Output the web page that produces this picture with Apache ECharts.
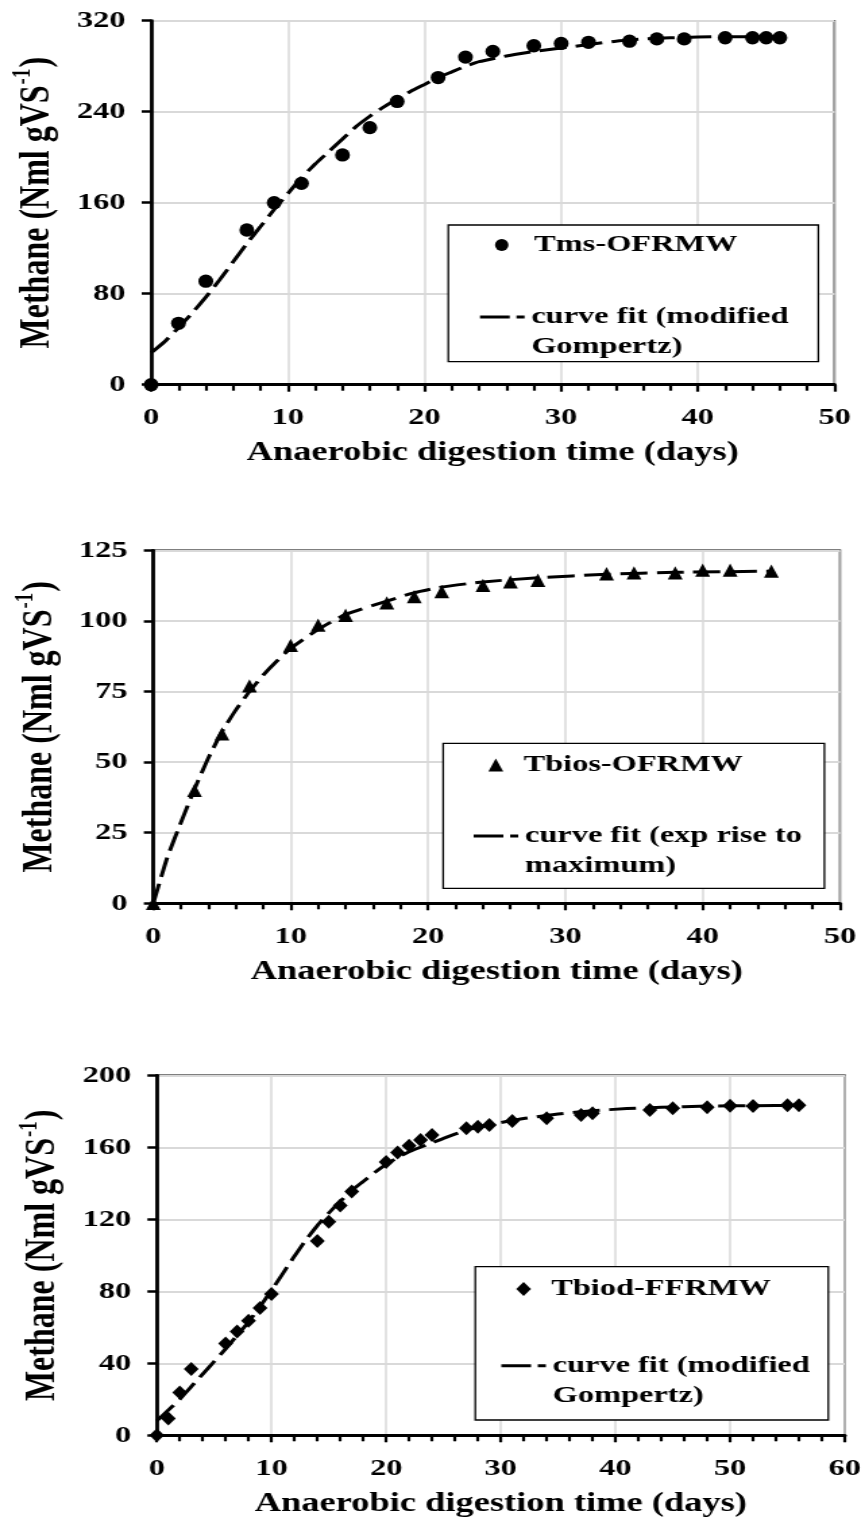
<!DOCTYPE html>
<html>
<head>
<meta charset="utf-8">
<script src="https://cdn.jsdelivr.net/npm/echarts@6/dist/echarts.min.js"></script>
<style>
html,body{margin:0;padding:0;background:#fff;overflow:hidden;width:865px;height:1521px;}
#c{width:641px;height:1521px;transform:scaleX(1.34945);transform-origin:0 0;}
</style>
</head>
<body>
<div id="c"></div>
<script>
// ---------- DATA ----------
// Panel 1: Tms-OFRMW
const tmsDays    = [0, 2, 4, 7, 9, 11, 14, 16, 18, 21, 23, 25, 28, 30, 32, 35, 37, 39, 42, 44, 45, 46];
const tmsMethane = [0, 54, 91, 136, 160, 177, 202, 226, 249, 270, 288, 293, 298, 300, 301, 302, 304, 304, 305, 305, 305, 305];
const tmsFitDays    = [0, 1, 2, 3, 4, 5, 6, 7, 8, 9, 10, 11, 12, 13, 14, 15, 16, 17, 18, 19, 20, 21, 22, 23, 24, 26, 28, 30, 32, 34, 36, 38, 42, 46];
const tmsFitMethane = [28, 38, 50, 63, 77, 92, 108, 124, 139, 154, 168, 182, 194, 205, 216, 227, 236, 244, 251, 258, 264, 270, 275, 280, 284, 289, 293, 296, 299, 302, 304, 305, 306, 306];
// Panel 2: Tbios-OFRMW
const bioDays    = [0, 3, 5, 7, 10, 12, 14, 17, 19, 21, 24, 26, 28, 33, 35, 38, 40, 42, 45];
const bioMethane = [0, 40, 60, 77, 91.3, 98.5, 102, 106.4, 108.6, 110.4, 112.6, 113.8, 114.4, 116.7, 117, 117, 118, 118, 117.6];
const bioFitDays    = [0, 1, 2, 3, 4, 5, 6, 7, 8, 9, 10, 12, 14, 17, 19, 21, 24, 28, 33, 38, 45];
const bioFitMethane = [0, 16, 28.5, 40.5, 51.4, 60.8, 68.4, 75, 80.8, 85.8, 90.3, 97, 102.3, 107, 110, 112, 113.8, 115.3, 116.5, 117.2, 117.6];
// Panel 3: Tbiod-FFRMW
const biodDays    = [0, 1, 2, 3, 6, 7, 8, 9, 10, 14, 15, 16, 17, 20, 21, 22, 23, 24, 27, 28, 29, 31, 34, 37, 38, 43, 45, 48, 50, 52, 55, 56];
const biodMethane = [0, 9.3, 23.8, 36.8, 51, 57.7, 63.6, 70.7, 78.5, 108, 118.7, 127.7, 135.5, 151.8, 157.1, 160.8, 164, 166.8, 170.6, 171.4, 172.4, 174.6, 176.1, 177.9, 178.9, 180.7, 181.7, 182.2, 183.1, 182.9, 183.3, 183.3];
const biodFitDays    = [0, 1, 2, 3, 4, 5, 6, 7, 8, 9, 10, 11, 12, 13, 14, 15, 16, 17, 18, 19, 20, 21, 22, 24, 25, 27, 29, 32, 35, 38, 41, 44, 48, 52, 56];
const biodFitMethane = [8, 14, 20, 27, 34, 41, 48, 55.5, 63, 71.5, 80.5, 90, 99.5, 108.5, 116.5, 123.5, 130, 136, 141, 146, 150.5, 154.3, 157.5, 162.5, 165, 169.5, 172.5, 176, 178.5, 180.3, 181.5, 182.2, 182.9, 183.1, 183.3];

// Tick labels
const xTicks1 = [0, 10, 20, 30, 40, 50];
const xTicks2 = [0, 10, 20, 30, 40, 50];
const xTicks3 = [0, 10, 20, 30, 40, 50, 60];
const yTicks1 = [0, 80, 160, 240, 320];
const yTicks2 = [0, 25, 50, 75, 100, 125];
const yTicks3 = [0, 40, 80, 120, 160, 200];

// Text
const xTitle = 'Anaerobic digestion time (days)';
const yTitle = '{a|Methane (Nml gVS}{s|-1}{a|)}';
const seriesNames = ['Tms-OFRMW', 'Tbios-OFRMW', 'Tbiod-FFRMW'];
const fitNames = ['fit-Tms', 'fit-Tbios', 'fit-Tbiod'];
const fitLabels = {
  'fit-Tms':   ['curve fit (modified', 'Gompertz)'],
  'fit-Tbios': ['curve fit (exp rise to', 'maximum)'],
  'fit-Tbiod': ['curve fit (modified', 'Gompertz)']
};

// ---------- CHART ----------
const FONT = "'Liberation Serif', 'Times New Roman', serif";
const zip = (a, b) => a.map((v, i) => [v, b[i]]);
const ellipse = 'path://M0,50 A50,50 0 1,0 100,50 A50,50 0 1,0 0,50 Z';
const dashIcon = 'path://M0,0 L22,0 L22,3 L0,3 Z M27,0 L33,0 L33,3 L27,3 Z';

const grids = [
  {left: 108.9, top: 20.7, width: 509.5, height: 364},
  {left: 113.6, top: 550.3, width: 508.9, height: 353},
  {left: 116.2, top: 1075.3, width: 510.4, height: 360}
];
const xTicksAll = [xTicks1, xTicks2, xTicks3];
const yTicksAll = [yTicks1, yTicks2, yTicks3];

const txt = {color: '#000', fontFamily: FONT, fontWeight: 'bold'};
const legendText = (extra) => Object.assign({fontSize: 24, lineHeight: 30}, txt, extra || {});

const option = {
  animation: false,
  backgroundColor: '#fff',
  grid: grids.map(g => Object.assign({show: true, borderColor: '#000', borderWidth: 1.5, backgroundColor: 'transparent'}, g)),
  xAxis: xTicksAll.map((t, i) => ({
    type: 'value', gridIndex: i,
    min: t[0], max: t[t.length - 1], interval: t[1] - t[0],
    axisLine: {show: true, onZero: false, lineStyle: {color: '#000', width: 3}},
    axisTick: {show: true, inside: false, length: 7, lineStyle: {color: '#000', width: 2.2}},
    minorTick: {show: true, splitNumber: 5, length: 6, lineStyle: {color: '#000', width: 2.2}},
    splitLine: {show: true, lineStyle: {color: '#d9d9d9', width: 1.5}},
    axisLabel: Object.assign({fontSize: 24, margin: 21}, txt),
    name: xTitle, nameLocation: 'middle', nameGap: 55,
    nameTextStyle: Object.assign({fontSize: 27}, txt)
  })),
  yAxis: yTicksAll.map((t, i) => ({
    type: 'value', gridIndex: i,
    min: t[0], max: t[t.length - 1], interval: t[1] - t[0],
    axisLine: {show: true, onZero: false, lineStyle: {color: '#000', width: 2.8}},
    axisTick: {show: true, inside: false, length: 7, lineStyle: {color: '#000', width: 2.5}},
    splitLine: {show: true, lineStyle: {color: '#d9d9d9', width: 2}},
    axisLabel: Object.assign({fontSize: 24, margin: 19}, txt),
    name: yTitle, nameLocation: 'middle', nameGap: 68,
    nameTextStyle: Object.assign({fontSize: 32, rich: {
      a: Object.assign({fontSize: 32, lineHeight: 36, verticalAlign: 'bottom'}, txt),
      s: Object.assign({fontSize: 19, verticalAlign: 'top', padding: [0, 1, 0, 1]}, txt)
    }}, txt)
  })),
  legend: [
    // scatter items
    {left: 366.8, top: 230, padding: 0, selectedMode: false, data: [seriesNames[0]],
      itemWidth: 10, itemHeight: 12, symbolKeepAspect: false,
      textStyle: legendText({padding: [0, 0, 0, 14]})},
    {left: 361.9, top: 750, padding: 0, selectedMode: false, data: [seriesNames[1]],
      itemWidth: 11, itemHeight: 13, symbolKeepAspect: false,
      textStyle: legendText({padding: [0, 0, 0, 10]})},
    {left: 382.5, top: 1274, padding: 0, selectedMode: false, data: [seriesNames[2]],
      itemWidth: 11, itemHeight: 14, symbolKeepAspect: false,
      textStyle: legendText({padding: [0, 0, 0, 10]})},
    // fit items
    {left: 355.7, top: 272, padding: 0, selectedMode: false, data: [fitNames[0]],
      icon: dashIcon, itemWidth: 33, itemHeight: 3, symbolKeepAspect: false,
      itemStyle: {color: '#000', opacity: 1},
      formatter: n => ' \n' + fitLabels[n].join('\n'),
      textStyle: legendText()},
    {left: 351, top: 791, padding: 0, selectedMode: false, data: [fitNames[1]],
      icon: dashIcon, itemWidth: 33, itemHeight: 3, symbolKeepAspect: false,
      itemStyle: {color: '#000', opacity: 1},
      formatter: n => ' \n' + fitLabels[n].join('\n'),
      textStyle: legendText()},
    {left: 371.5, top: 1320.7, padding: 0, selectedMode: false, data: [fitNames[2]],
      icon: dashIcon, itemWidth: 33, itemHeight: 3, symbolKeepAspect: false,
      itemStyle: {color: '#000', opacity: 1},
      formatter: n => ' \n' + fitLabels[n].join('\n'),
      textStyle: legendText()}
  ],
  graphic: [
    {type: 'rect', z: 3, shape: {x: 332.2, y: 225, width: 274.2, height: 136.7}, style: {fill: '#fff', stroke: '#000', lineWidth: 1.3}},
    {type: 'rect', z: 3, shape: {x: 328.4, y: 743.3, width: 282.5, height: 145}, style: {fill: '#fff', stroke: '#000', lineWidth: 1.3}},
    {type: 'rect', z: 3, shape: {x: 352.2, y: 1266.7, width: 261.6, height: 153.3}, style: {fill: '#fff', stroke: '#000', lineWidth: 1.3}}
  ],
  series: [
    {type: 'line', name: fitNames[0], xAxisIndex: 0, yAxisIndex: 0, data: zip(tmsFitDays, tmsFitMethane),
      symbol: 'none', smooth: 0.15, lineStyle: {color: '#000', width: 3, type: [20, 7]}, itemStyle: {color: '#000'}, z: 2},
    {type: 'scatter', name: seriesNames[0], xAxisIndex: 0, yAxisIndex: 0, data: zip(tmsDays, tmsMethane),
      symbol: ellipse, symbolSize: [11, 13.3], itemStyle: {color: '#000', opacity: 1}, z: 2},
    {type: 'line', name: fitNames[1], xAxisIndex: 1, yAxisIndex: 1, data: zip(bioFitDays, bioFitMethane),
      symbol: 'none', smooth: 0.15, lineStyle: {color: '#000', width: 3, type: [20, 7]}, itemStyle: {color: '#000'}, z: 2},
    {type: 'scatter', name: seriesNames[1], xAxisIndex: 1, yAxisIndex: 1, data: zip(bioDays, bioMethane),
      symbol: 'triangle', symbolSize: [11, 13.3], itemStyle: {color: '#000', opacity: 1}, z: 2},
    {type: 'line', name: fitNames[2], xAxisIndex: 2, yAxisIndex: 2, data: zip(biodFitDays, biodFitMethane),
      symbol: 'none', smooth: 0.15, lineStyle: {color: '#000', width: 3, type: [20, 7]}, itemStyle: {color: '#000'}, z: 2},
    {type: 'scatter', name: seriesNames[2], xAxisIndex: 2, yAxisIndex: 2, data: zip(biodDays, biodMethane),
      symbol: 'diamond', symbolSize: [11, 14], itemStyle: {color: '#000', opacity: 1}, z: 2}
  ]
};

const chart = echarts.init(document.getElementById('c'), null, {renderer: 'canvas', width: 641, height: 1521});
chart.setOption(option);
</script>
</body>
</html>
